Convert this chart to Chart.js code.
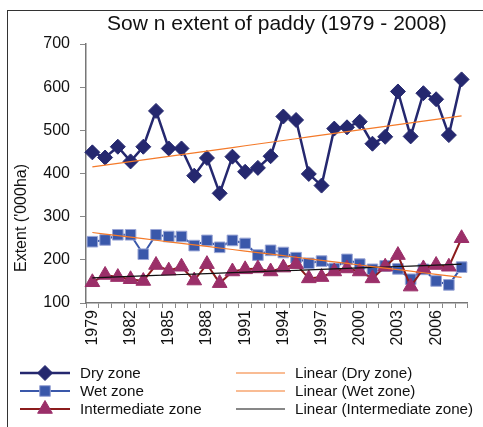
<!DOCTYPE html>
<html>
<head>
<meta charset="utf-8">
<script src="https://cdn.jsdelivr.net/npm/chart.js@4"></script>
<style>
  html, body { margin: 0; padding: 0; background: #fff; }
  #wrap { position: relative; width: 483px; height: 427px; overflow: hidden; }
  #frame { position: absolute; left: 7px; top: 10px; width: 600px; height: 600px;
           border-top: 1px solid #333; border-left: 1px solid #333; }
  canvas { position: absolute; left: 0; top: 0; }
</style>
</head>
<body>
<div id="wrap">
  <div id="frame"></div>
  <canvas id="paddyChart" width="483" height="427"></canvas>
</div>
<script>
const years = ["1979","1980","1981","1982","1983","1984","1985","1986","1987","1988",
               "1989","1990","1991","1992","1993","1994","1995","1996","1997","1998",
               "1999","2000","2001","2002","2003","2004","2005","2006","2007","2008"];
const xTickLabels = ["1979","1982","1985","1988","1991","1994","1997","2000","2003","2006"];

const dryZone = [449, 437, 462, 428, 462, 545, 458, 458, 395, 436,
                 354, 439, 404, 413, 440, 532, 524, 399, 372, 504,
                 507, 520, 469, 485, 590, 486, 586, 572, 489, 618];
const wetZone = [242, 246, 258, 258, 213, 258, 254, 254, 233, 245,
                 229, 245, 238, 211, 222, 217, 205, 192, 197, 180,
                 201, 190, 178, 186, 179, 155, 178, 151, 142, 183];
const intermediateZone = [148, 165, 160, 155, 151, 188, 175, 184, 152, 190,
                          146, 173, 178, 180, 173, 182, 190, 157, 160, 173,
                          180, 173, 157, 184, 211, 138, 180, 188, 184, 250];

function linearTrend(vals) {
    const n = vals.length;
    let sx = 0, sy = 0, sxy = 0, sxx = 0;
    vals.forEach((v, i) => { sx += i; sy += v; sxy += i * v; sxx += i * i; });
    const b = (n * sxy - sx * sy) / (n * sxx - sx * sx);
    const a = (sy - b * sx) / n;
    return vals.map((_, i) => a + b * i);
}

const navy = "#25286f";
const blue = "#3a58aa";
const plum = "#9b2f69";
const darkRed = "#8c1c1c";
const orange = "#f47a2a";

const datasets = [
    { label: "Dry zone", data: dryZone, borderColor: navy, backgroundColor: navy,
      borderWidth: 2.5, pointStyle: "rectRot", pointRadius: 7.5, pointBorderColor: navy,
      pointBorderWidth: 1, order: 2 },
    { label: "Wet zone", data: wetZone, borderColor: blue, backgroundColor: blue,
      borderWidth: 2, pointStyle: "rect", pointRadius: 7.5, pointBorderColor: "#9aa6d6",
      pointBorderWidth: 1, order: 3 },
    { label: "Intermediate zone", data: intermediateZone, borderColor: darkRed, backgroundColor: plum,
      borderWidth: 2, pointStyle: "triangle", pointRadius: 8.5, pointBorderColor: plum,
      pointBorderWidth: 1, order: 1 },
    { label: "Linear (Dry zone)", data: linearTrend(dryZone), borderColor: orange,
      borderWidth: 1.2, pointRadius: 0, order: 0 },
    { label: "Linear (Wet zone)", data: linearTrend(wetZone), borderColor: orange,
      borderWidth: 1.2, pointRadius: 0, order: 0 },
    { label: "Linear (Intermediate zone)", data: linearTrend(intermediateZone), borderColor: "#111",
      borderWidth: 1.2, pointRadius: 0, order: 0 }
];

// title, y axis title and the two-column legend are drawn here
const extras = {
    id: "extras",
    afterDraw(chart) {
        const ctx = chart.ctx;
        const area = chart.chartArea;
        ctx.save();
        ctx.fillStyle = "#111";
        ctx.textBaseline = "middle";
        ctx.font = "21px 'Liberation Sans', Arial, sans-serif";
        ctx.textAlign = "center";
        ctx.fillText("Sow n extent of paddy (1979 - 2008)", (area.left + area.right) / 2, 24);

        ctx.save();
        ctx.translate(22, 218);
        ctx.rotate(-Math.PI / 2);
        ctx.font = "16px 'Liberation Sans', Arial, sans-serif";
        ctx.fillText("Extent ('000ha)", 0, 0);
        ctx.restore();

        ctx.textAlign = "left";
        ctx.font = "15.2px 'Liberation Sans', Arial, sans-serif";
        const rows = [373, 391, 409];
        const cols = [{ x0: 20, x1: 70, tx: 80 }, { x0: 236, x1: 285, tx: 295 }];
        chart.data.datasets.forEach((ds, i) => {
            const col = cols[i < 3 ? 0 : 1];
            const y = rows[i % 3];
            ctx.strokeStyle = ds.borderColor;
            ctx.lineWidth = ds.borderWidth;
            ctx.beginPath();
            ctx.moveTo(col.x0, y);
            ctx.lineTo(col.x1, y);
            ctx.stroke();
            if (ds.pointRadius > 0) {
                ctx.fillStyle = ds.backgroundColor;
                ctx.strokeStyle = ds.pointBorderColor;
                ctx.lineWidth = 1;
                Chart.helpers.drawPoint(ctx, { pointStyle: ds.pointStyle, radius: ds.pointRadius, rotation: 0, borderWidth: 1 },
                    (col.x0 + col.x1) / 2, y);
            }
            ctx.fillStyle = "#111";
            ctx.fillText(ds.label, col.tx, y + 1);
        });
        ctx.restore();
    }
};

new Chart(document.getElementById("paddyChart"), {
    type: "line",
    data: { labels: years, datasets: datasets },
    options: {
        responsive: false,
        animation: false,
        layout: { padding: { top: 44, right: 13, left: 0, bottom: 0 } },
        plugins: { legend: { display: false }, title: { display: false }, tooltip: { enabled: false } },
        elements: { line: { tension: 0 } },
        scales: {
            x: {
                offset: true,
                grid: { offset: true, drawOnChartArea: false, tickLength: 5, color: "#888" },
                border: { color: "#777", width: 1.5 },
                ticks: {
                    autoSkip: false, minRotation: 90, maxRotation: 90, padding: 2,
                    color: "#111", font: { family: "'Liberation Sans', Arial, sans-serif", size: 16 },
                    callback: function (v, i) { return xTickLabels.includes(years[i]) ? years[i] : ""; }
                },
                afterFit(scale) { scale.height = 124; }
            },
            y: {
                min: 100, max: 700,
                grid: { drawOnChartArea: false, tickLength: 6, color: "#888" },
                border: { color: "#777", width: 1.5 },
                ticks: { stepSize: 100, padding: 10, color: "#111",
                         font: { family: "'Liberation Sans', Arial, sans-serif", size: 16 } },
                afterFit(scale) { scale.width = 86; }
            }
        }
    },
    plugins: [extras]
});
</script>
</body>
</html>
